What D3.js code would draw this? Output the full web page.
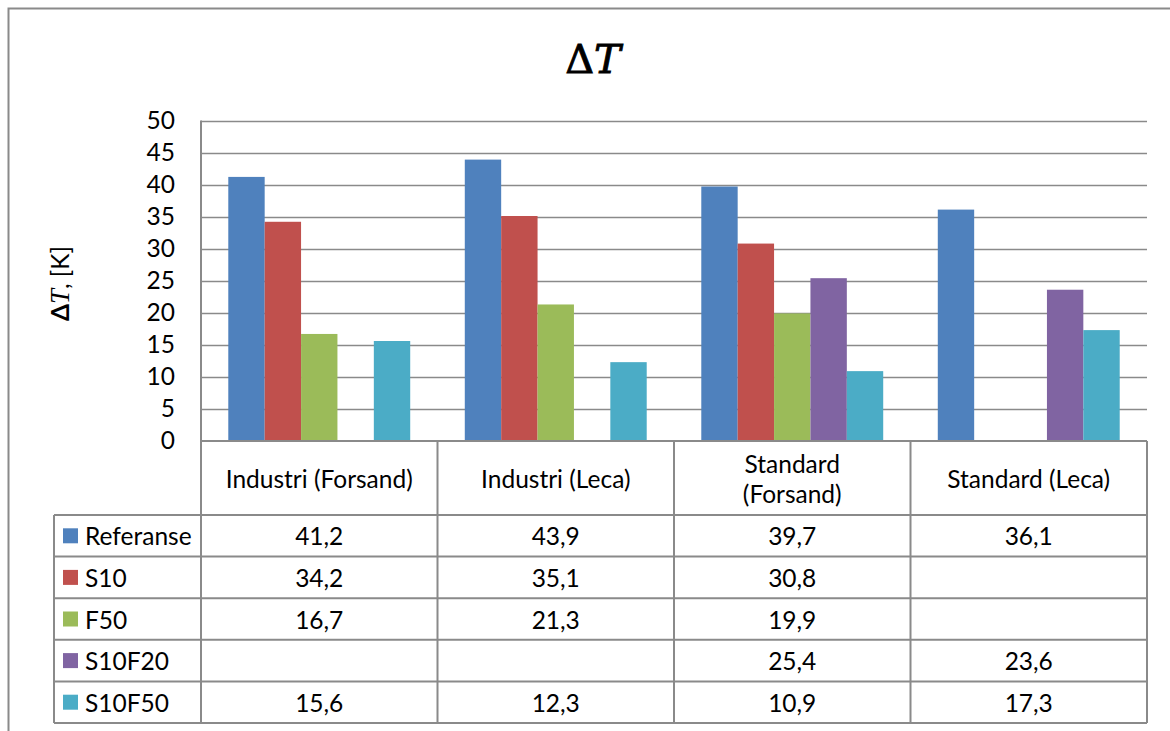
<!DOCTYPE html>
<html>
<head>
<meta charset="utf-8">
<script src="https://cdn.jsdelivr.net/npm/d3@7"></script>
<style>
  html, body { margin: 0; padding: 0; background: #fff; }
  svg { display: block; }
  text { font-family: Lato, "Open Sans", sans-serif; fill: #000; }
</style>
</head>
<body>
<svg id="chart" width="1170" height="731"></svg>
<script>
// ---- data ----
const categories = ["Industri (Forsand)", "Industri (Leca)", "Standard (Forsand)", "Standard (Leca)"];
const categoryLines = [["Industri (Forsand)"], ["Industri (Leca)"], ["Standard", "(Forsand)"], ["Standard (Leca)"]];
const seriesNames = ["Referanse", "S10", "F50", "S10F20", "S10F50"];
const referanse = [41.2, 43.9, 39.7, 36.1];
const s10 = [34.2, 35.1, 30.8, null];
const f50 = [16.7, 21.3, 19.9, null];
const s10f20 = [null, null, 25.4, 23.6];
const s10f50 = [15.6, 12.3, 10.9, 17.3];
const yTicks = [0, 5, 10, 15, 20, 25, 30, 35, 40, 45, 50];
const colors = ["#4F81BD", "#C0504D", "#9BBB59", "#8064A2", "#4BACC6"];

const seriesValues = [referanse, s10, f50, s10f20, s10f50];

// ---- layout ----
const svg = d3.select("#chart");
const plotLeft = 201, plotRight = 1147, plotTop = 120.5, plotBottom = 441;
const headerBottom = 515, rowH = 41.6, tableLeft = 54;
const gridColor = "#8a8a8a";
const fontSize = 24.5;

// outer frame
svg.append("path")
  .attr("d", `M8.5,731 V8.5 H1170`)
  .attr("fill", "none").attr("stroke", "#8a8a8a").attr("stroke-width", 2);

const x = d3.scaleBand().domain(categories).range([plotLeft, plotRight]).padding(0);
const xs = d3.scaleBand().domain(seriesNames).range([0, x.bandwidth()]).paddingInner(0).paddingOuter(0.75);
const y = d3.scaleLinear().domain([0, 50]).range([plotBottom, plotTop]);

// title
const title = svg.append("text")
  .attr("x", 593).attr("y", 73)
  .attr("text-anchor", "middle")
  .style("font-family", "'DejaVu Serif', 'Liberation Serif', serif")
  .style("font-size", "40px")
  .attr("stroke", "#000").attr("stroke-width", 0.9);
title.append("tspan").text("Δ");
title.append("tspan").style("font-style", "italic").text("T");

// y axis label
const yl = svg.append("text")
  .attr("transform", "translate(69,283.5) rotate(-90)")
  .attr("text-anchor", "middle")
  .style("font-size", "24.5px");
yl.append("tspan").style("font-weight", "bold").text("Δ");
yl.append("tspan").style("font-style", "italic").style("font-family", "'Liberation Serif', serif").style("font-size", "27px").text("T");
yl.append("tspan").text(", [K]");

// gridlines
svg.append("g").selectAll("line").data(yTicks.filter(d => d > 0)).join("line")
  .attr("x1", plotLeft).attr("x2", plotRight)
  .attr("y1", d => Math.round(y(d)) + 0.5).attr("y2", d => Math.round(y(d)) + 0.5)
  .attr("stroke", gridColor).attr("stroke-width", 1.6);

// y axis tick labels
const yAxis = d3.axisLeft(y).tickValues(yTicks).tickSize(0).tickPadding(26).tickFormat(d3.format("d"));
const yg = svg.append("g").attr("transform", `translate(${plotLeft},0)`).call(yAxis);
yg.select(".domain").remove();
yg.selectAll("text").style("font-family", "Lato, sans-serif").style("font-size", fontSize + "px").attr("fill", "#000");

// bars
const barData = [];
seriesNames.forEach((s, si) => {
  categories.forEach((c, ci) => {
    const v = seriesValues[si][ci];
    if (v !== null) barData.push({ s, c, v, color: colors[si] });
  });
});
svg.append("g").selectAll("rect").data(barData).join("rect")
  .attr("x", d => x(d.c) + xs(d.s))
  .attr("width", xs.bandwidth())
  .attr("y", d => y(d.v))
  .attr("height", d => y(0) - y(d.v))
  .attr("fill", d => d.color);

// table lines
const tableBottom = headerBottom + rowH * seriesNames.length;
const lines = svg.append("g").attr("stroke", gridColor).attr("stroke-width", 2).attr("fill", "none");
lines.append("line").attr("x1", plotLeft).attr("x2", plotRight).attr("y1", plotBottom).attr("y2", plotBottom);
lines.append("line").attr("x1", plotLeft).attr("x2", plotLeft).attr("y1", plotTop).attr("y2", tableBottom);
categories.forEach((c, i) => {
  const xx = x(c) + x.bandwidth();
  lines.append("line").attr("x1", xx).attr("x2", xx).attr("y1", plotBottom).attr("y2", tableBottom);
});
d3.range(seriesNames.length + 1).forEach(i => {
  const yy = headerBottom + i * rowH;
  lines.append("line").attr("x1", tableLeft).attr("x2", plotRight).attr("y1", yy).attr("y2", yy);
});
lines.append("line").attr("x1", tableLeft).attr("x2", tableLeft).attr("y1", headerBottom).attr("y2", tableBottom);

// category headers
categories.forEach((c, i) => {
  const ls = categoryLines[i];
  const cx = x(c) + x.bandwidth() / 2;
  const cy = (plotBottom + headerBottom) / 2;
  const lh = 30;
  ls.forEach((t, j) => {
    svg.append("text")
      .attr("x", cx).attr("y", cy + (j - (ls.length - 1) / 2) * lh)
      .attr("text-anchor", "middle").attr("dominant-baseline", "central")
      .style("font-size", fontSize + "px").text(t);
  });
});

// row labels with keys
seriesNames.forEach((s, i) => {
  const cy = headerBottom + i * rowH + rowH / 2;
  svg.append("rect").attr("x", 63).attr("y", cy - 7.5).attr("width", 15).attr("height", 15).attr("fill", colors[i]);
  svg.append("text").attr("x", 85).attr("y", cy)
    .attr("dominant-baseline", "central")
    .style("font-size", fontSize + "px").text(s);
  categories.forEach((c, ci) => {
    const v = seriesValues[i][ci];
    if (v === null) return;
    svg.append("text")
      .attr("x", x(c) + x.bandwidth() / 2).attr("y", cy)
      .attr("text-anchor", "middle").attr("dominant-baseline", "central")
      .style("font-size", fontSize + "px")
      .text(d3.format(".1f")(v).replace(".", ","));
  });
});
</script>
</body>
</html>
